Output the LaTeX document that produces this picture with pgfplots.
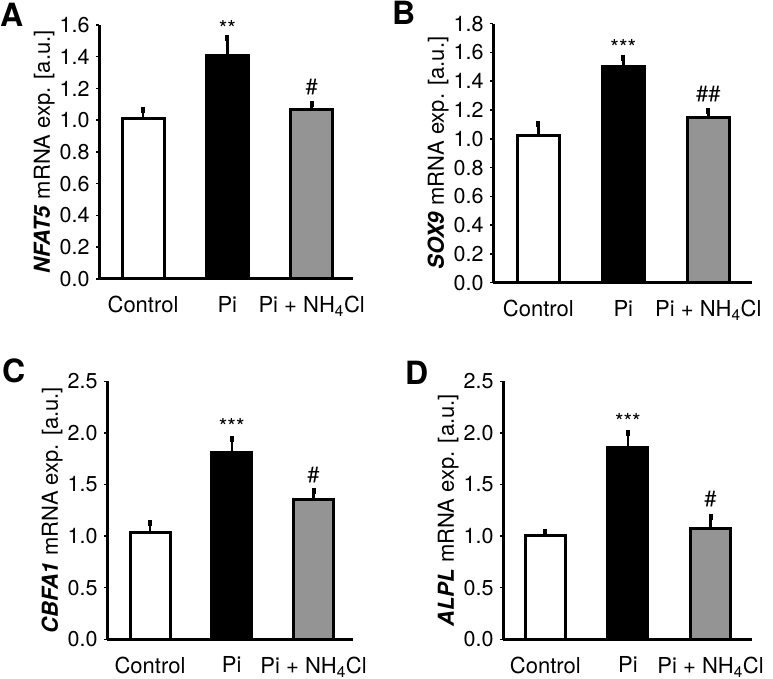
\documentclass[border=0pt]{standalone}
\usepackage{pgfplots}
\pgfplotsset{compat=1.18}
\usepackage{fontspec}
\setmainfont{TeX Gyre Heros}
\pgfplotsset{
  panel/.style={
    scale only axis, clip=false,
    anchor=south west,
    ymin=0,
    axis x line*=bottom, axis y line*=left,
    axis line style={line width=3pt, -},
    tick align=outside, major tick length=3pt,
    ytick style={line width=1.5pt, black},
    xtick={0,1,2},
    xticklabels={Control, Pi, Pi + NH\textsubscript{4}Cl},
    xtick style={draw=none},
    xticklabel style={font=\fontsize{22}{22}\selectfont, yshift=-11pt},
    yticklabel style={font=\fontsize{21.5}{22}\selectfont, xshift=-3pt,
      /pgf/number format/.cd, fixed, fixed zerofill, precision=1},
    /pgf/number format/assume math mode=true,
    ylabel style={font=\fontsize{22}{22}\selectfont, yshift=-2pt},
  },
  bar/.style={ybar, bar shift=0pt, draw=black, line width=3pt,
    error bars/y dir=plus, error bars/y explicit,
    error bars/error bar style={line width=2.5pt, black},
    error bars/error mark options={line width=4pt, mark size=3pt, black}},
}
\newcommand{\ann}[3]{\node[font=\fontsize{#3}{#3}\selectfont, anchor=base] at #1 {#2};}
\begin{document}
\begin{tikzpicture}[x=1pt,y=1pt]
\path[use as bounding box] (0,0) rectangle (773,679);
% Panel A
\begin{axis}[panel, at={(99pt,400pt)}, width=254pt, height=254pt,
  xmin=-0.522, xmax=2.49, ymax=1.6, ytick={0,0.2,...,1.6},
  ylabel={\textbf{\textit{NFAT5}} mRNA exp. [a.u.]}]
\addplot[bar, bar width=42pt, fill=white] coordinates {(0,1.01) +- (0,0.055)};
\addplot[bar, bar width=42pt, fill=black] coordinates {(1,1.405) +- (0,0.11)};
\addplot[bar, bar width=42pt, fill=black!42] coordinates {(2,1.07) +- (0,0.03)};
\ann{(axis cs:1,1.53)}{**}{22}
\ann{(axis cs:2,1.161)}{\#}{22}
\end{axis}
% Panel B
\begin{axis}[panel, at={(493pt,396.3pt)}, width=259pt, height=259pt,
  xmin=-0.533, xmax=2.514, ymax=1.8, ytick={0,0.2,...,1.8},
  ylabel={\textbf{\textit{SOX9}} mRNA exp. [a.u.]}]
\addplot[bar, bar width=42pt, fill=white] coordinates {(0,1.02) +- (0,0.08)};
\addplot[bar, bar width=42pt, fill=black] coordinates {(1,1.50) +- (0,0.063)};
\addplot[bar, bar width=42pt, fill=black!42] coordinates {(2,1.15) +- (0,0.042)};
\ann{(axis cs:1,1.58)}{***}{22}
\ann{(axis cs:2,1.258)}{\#\#}{22}
\end{axis}
% Panel C
\begin{axis}[panel, at={(107pt,39.7pt)}, width=246pt, height=258pt,
  xmin=-0.526, xmax=2.483, ymax=2.5, ytick={0,0.5,...,2.5},
  ylabel={\textbf{\textit{CBFA1}} mRNA exp. [a.u.]}]
\addplot[bar, bar width=40pt, fill=white] coordinates {(0,1.035) +- (0,0.094)};
\addplot[bar, bar width=40pt, fill=black] coordinates {(1,1.81) +- (0,0.13)};
\addplot[bar, bar width=40pt, fill=black!42] coordinates {(2,1.35) +- (0,0.087)};
\ann{(axis cs:1,1.98)}{***}{22}
\ann{(axis cs:2,1.516)}{\#}{22}
\end{axis}
% Panel D
\begin{axis}[panel, at={(503pt,39.7pt)}, width=249pt, height=258pt,
  xmin=-0.512, xmax=2.502, ymax=2.5, ytick={0,0.5,...,2.5},
  ylabel={\textbf{\textit{ALPL}} mRNA exp. [a.u.]}]
\addplot[bar, bar width=40pt, fill=white] coordinates {(0,1.01) +- (0,0.03)};
\addplot[bar, bar width=40pt, fill=black] coordinates {(1,1.855) +- (0,0.14)};
\addplot[bar, bar width=40pt, fill=black!42] coordinates {(2,1.075) +- (0,0.11)};
\ann{(axis cs:1,2.03)}{***}{22}
\ann{(axis cs:2,1.29)}{\#}{22}
\end{axis}
\node[font=\bfseries\fontsize{32}{32}\selectfont, anchor=base west, inner sep=0pt] at (0,652) {A};
\node[font=\bfseries\fontsize{32}{32}\selectfont, anchor=base west, inner sep=0pt] at (392,654) {B};
\node[font=\bfseries\fontsize{32}{32}\selectfont, anchor=base west, inner sep=0pt] at (2,296) {C};
\node[font=\bfseries\fontsize{32}{32}\selectfont, anchor=base west, inner sep=0pt] at (405,294) {D};
\end{tikzpicture}
\end{document}
